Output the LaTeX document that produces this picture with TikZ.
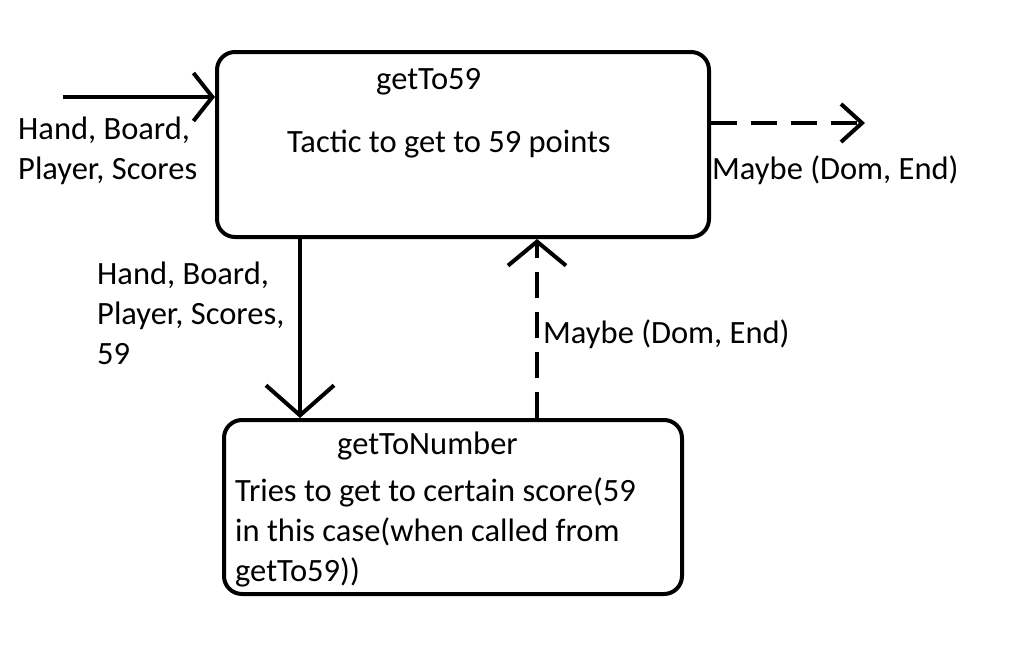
\documentclass[tikz,border=0pt]{standalone}
\usepackage{fontspec}
\setmainfont{Carlito}
\usetikzlibrary{arrows.meta}
\begin{document}
\begin{tikzpicture}[x=1pt,y=-1pt,
  box/.style={draw,line width=4pt,rounded corners=18pt,inner sep=0pt,anchor=north west},
  txt/.style={anchor=base west,inner sep=0pt,font=\fontsize{32.5}{40}\selectfont,align=left},
  conn/.style 2 args={line width=4pt,-{Straight Barb[length=#1pt,width=#2pt,line width=4pt]}},
  dash/.style={dash pattern=on 26pt off 14pt}]
\useasboundingbox (0,0) rectangle (1021,665);
\node[box,minimum width=492pt,minimum height=185pt] (b1) at (215,50) {};
\node[box,minimum width=458pt,minimum height=174pt] (b2) at (222,418) {};
\coordinate (in) at (63,97);
\coordinate (out) at (865,123);
\draw[conn={19}{48}] (in) -- (in -| b1.west);
\draw[conn={21}{38},dash pattern=on 26pt off 14pt] (b1.east |- out) -- (out);
\draw[conn={30}{68}] (b1.south -| 300,0) -- (b2.north -| 300,0);
\draw[conn={24}{58},dash pattern=on 26pt off 14pt] (b2.north -| 537,0) -- (b1.south -| 537,0);
\node[txt] (t1) at (376,89) {getTo59};
\node[txt] (t2) at (287,152) {Tactic to get to 59 points};
\node[txt] (t3) at (18,179) {Hand, Board,\\Player, Scores};
\node[txt] (t4) at (712,179) {Maybe (Dom, End)};
\node[txt] (t5) at (97,364) {Hand, Board,\\Player, Scores,\\59};
\node[txt] (t6) at (543,343) {Maybe (Dom, End)};
\node[txt] (t7) at (337,454) {getToNumber};
\node[txt] (t8) at (235,581) {Tries to get to certain score(59\\in this case(when called from\\getTo59))};
\end{tikzpicture}
\end{document}
